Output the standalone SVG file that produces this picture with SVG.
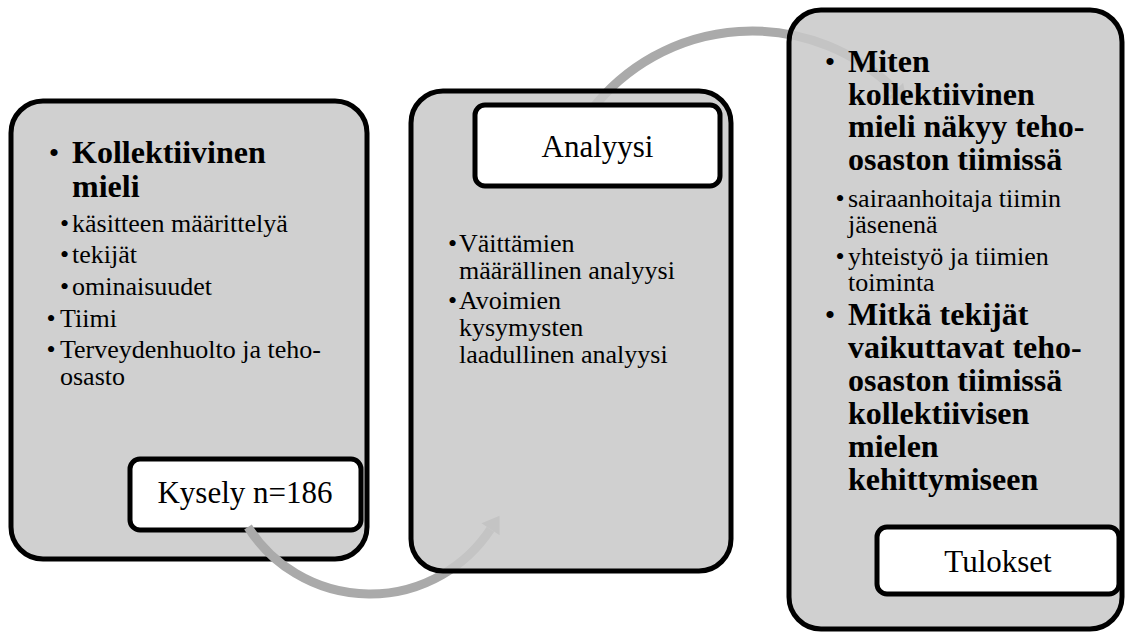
<svg xmlns="http://www.w3.org/2000/svg" width="1126" height="633" viewBox="0 0 1126 633">
<style>
.big{fill:rgb(200,200,200);fill-opacity:0.86;stroke:#000;stroke-width:5}
.lbl{fill:#fff;stroke:#000;stroke-width:5}
text{font-family:"Liberation Serif","Times New Roman",serif;fill:#000}
.b{font-size:32px;font-weight:bold}
.r{font-size:26px}
.bl{font-size:30px;text-anchor:middle}
.sb{font-size:26px;text-anchor:middle}
.t{font-size:31px;text-anchor:middle}
.arc{fill:none;stroke:#aaaaaa;stroke-width:9}
</style>
<defs>
<marker id="ah" markerUnits="userSpaceOnUse" markerWidth="20" markerHeight="24" viewBox="0 -11 16 22" refX="0" refY="0" orient="auto">
<path d="M0,-10 L15,0 L0,10 z" fill="#aaaaaa"/>
</marker>
</defs>
<g id="node-kysely">
<rect class="big" x="11" y="101" width="356" height="458" rx="32"/>
<text class="bl" x="54" y="163">•</text>
<text class="b" x="72" y="163">Kollektiivinen</text>
<text class="b" x="72" y="197">mieli</text>
<text class="sb" x="64.5" y="232">•</text>
<text class="r" x="72" y="232">käsitteen määrittelyä</text>
<text class="sb" x="64.5" y="263">•</text>
<text class="r" x="72" y="263">tekijät</text>
<text class="sb" x="64.5" y="295">•</text>
<text class="r" x="72" y="295">ominaisuudet</text>
<text class="sb" x="51" y="327">•</text>
<text class="r" x="60" y="327">Tiimi</text>
<text class="sb" x="51" y="358">•</text>
<text class="r" x="60" y="358">Terveydenhuolto ja teho-</text>
<text class="r" x="60" y="385">osasto</text>
<rect class="lbl" x="130" y="459" width="231" height="71" rx="10"/>
<text class="t" x="245" y="503">Kysely n=186</text>
</g>
<g id="connectors">
<path class="arc" d="M248,527 A144.5,144.5 0 0 0 490.5,529.3" marker-end="url(#ah)"/>
<path class="arc" d="M591.4,110 A202.8,202.8 0 0 1 895.4,90.4" marker-end="url(#ah)"/>
</g>
<g id="node-analyysi">
<rect class="big" x="411" y="91" width="320" height="480" rx="32"/>
<rect class="lbl" x="475" y="105" width="245" height="81" rx="10"/>
<text class="t" x="597.5" y="157">Analyysi</text>
<text class="sb" x="452.5" y="252">•</text>
<text class="r" x="459" y="252">Väittämien</text>
<text class="r" x="459" y="279">määrällinen analyysi</text>
<text class="sb" x="452.5" y="309">•</text>
<text class="r" x="459" y="309">Avoimien</text>
<text class="r" x="459" y="336">kysymysten</text>
<text class="r" x="459" y="363">laadullinen analyysi</text>
</g>
<g id="node-tulokset">
<rect class="big" x="789" y="10" width="333" height="619" rx="32"/>
<text class="bl" x="830" y="72">•</text>
<text class="b" x="848" y="72">Miten</text>
<text class="b" x="848" y="104.5">kollektiivinen</text>
<text class="b" x="848" y="137">mieli näkyy teho-</text>
<text class="b" x="848" y="170">osaston tiimissä</text>
<text class="sb" x="840" y="207">•</text>
<text class="r" x="848" y="207">sairaanhoitaja tiimin</text>
<text class="r" x="848" y="233">jäsenenä</text>
<text class="sb" x="840" y="265">•</text>
<text class="r" x="848" y="265">yhteistyö ja tiimien</text>
<text class="r" x="848" y="291">toiminta</text>
<text class="bl" x="830" y="325">•</text>
<text class="b" x="848" y="325">Mitkä tekijät</text>
<text class="b" x="848" y="358">vaikuttavat teho-</text>
<text class="b" x="848" y="391">osaston tiimissä</text>
<text class="b" x="848" y="424">kollektiivisen</text>
<text class="b" x="848" y="457">mielen</text>
<text class="b" x="848" y="490">kehittymiseen</text>
<rect class="lbl" x="877" y="527" width="242" height="67" rx="10"/>
<text class="t" x="998" y="572">Tulokset</text>
</g>
</svg>
